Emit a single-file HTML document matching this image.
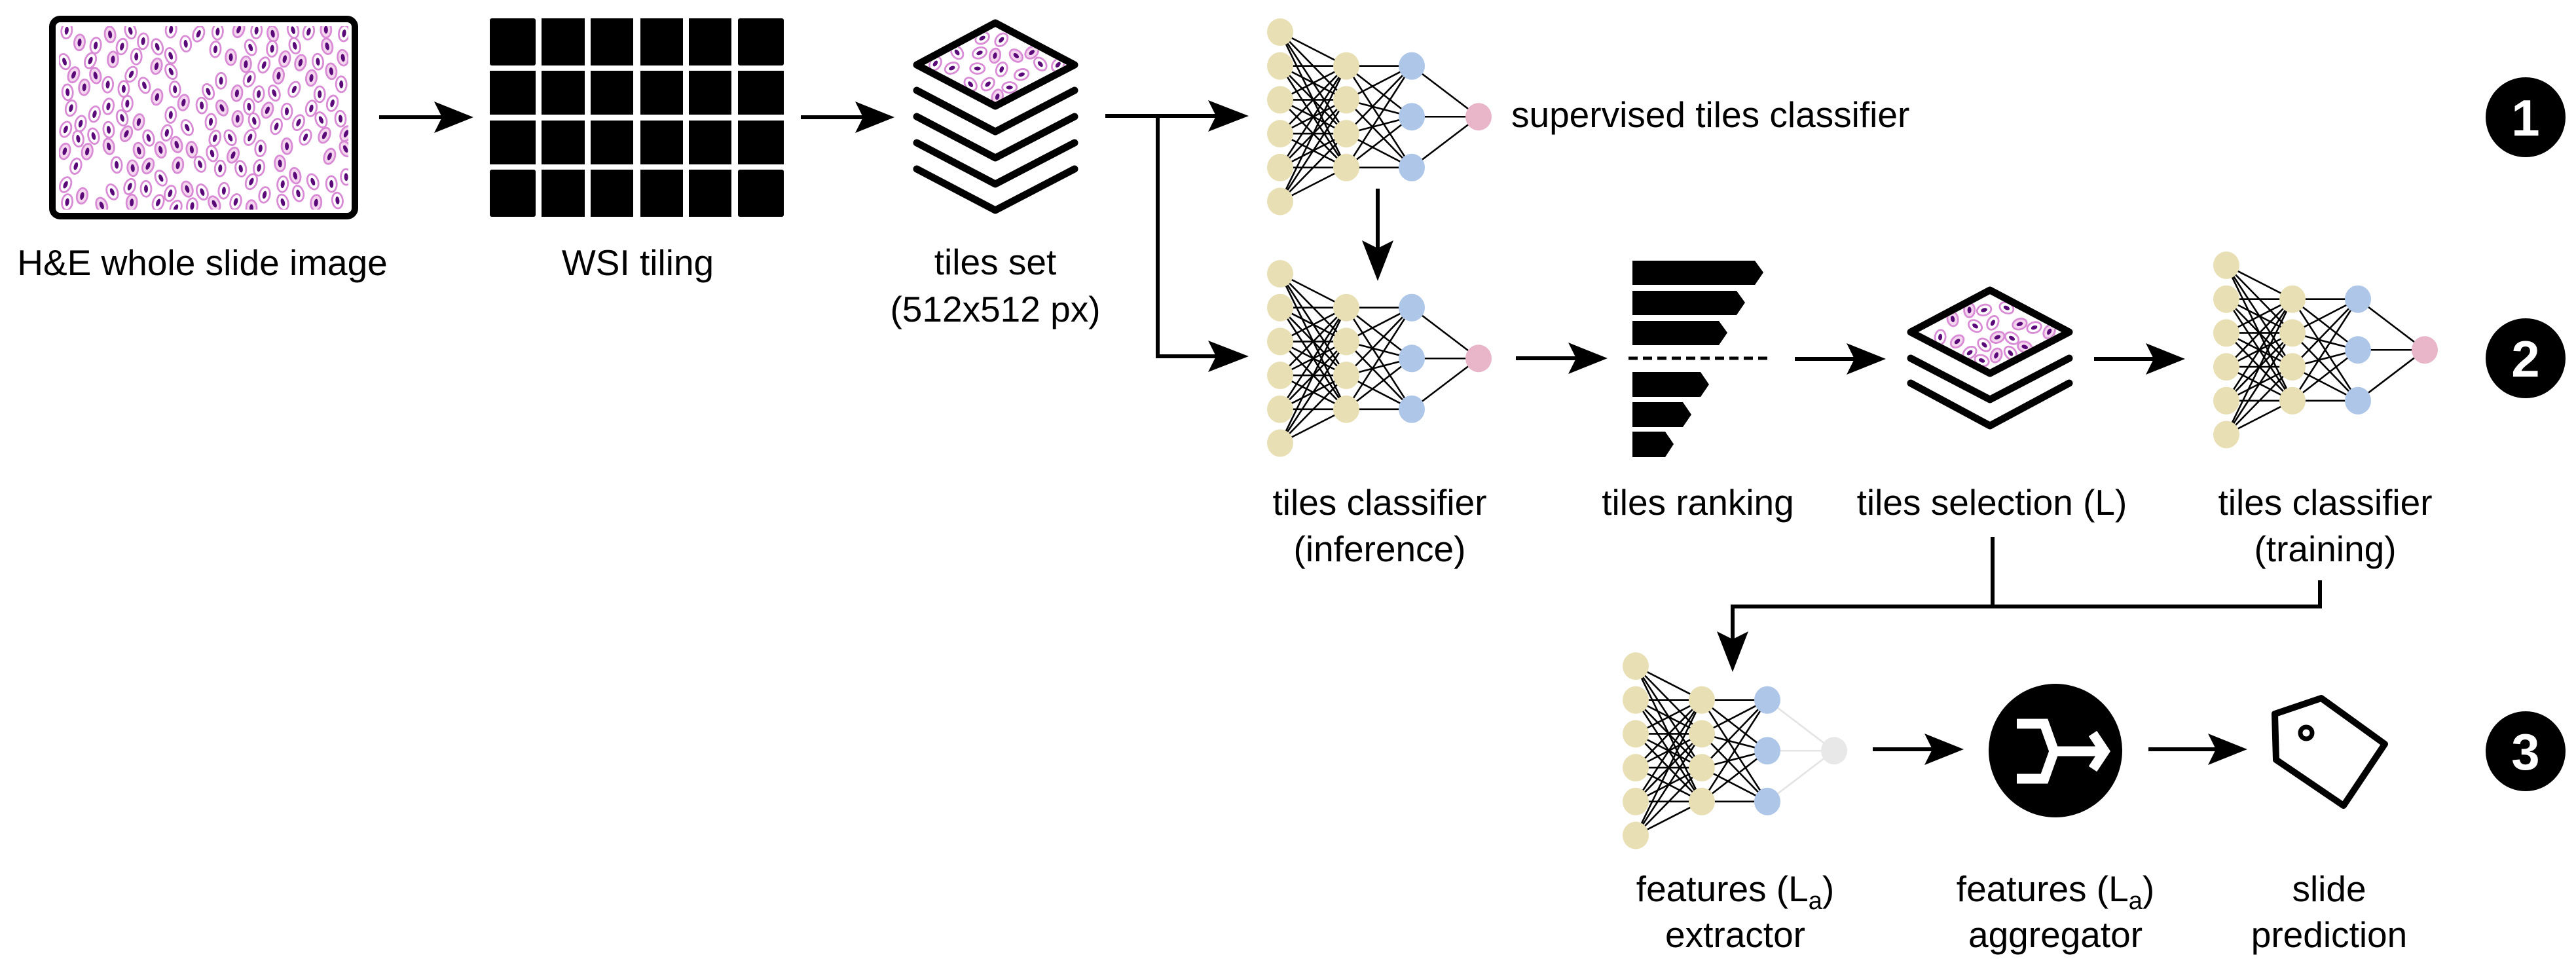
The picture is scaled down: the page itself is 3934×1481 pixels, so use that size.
<!DOCTYPE html>
<html><head><meta charset="utf-8"><style>
html,body{margin:0;padding:0;background:#fff;}
svg{display:block;}
text{font-family:"Liberation Sans",Arial,sans-serif;font-size:55px;fill:#000;}
.b{font-weight:bold;fill:#fff;font-size:78px;}
</style></head><body>
<svg id="s" width="3934" height="1481" viewBox="0 0 3934 1481" xmlns="http://www.w3.org/2000/svg">
<defs>
<clipPath id="c1"><polygon points="1412,99 1520,42 1628,99 1520,156"/></clipPath>
<clipPath id="c2"><polygon points="2931,507 3039,449 3147,507 3039,564"/></clipPath>
<clipPath id="c0"><rect x="90" y="40" width="442" height="280"/></clipPath>
</defs>
<g id="shapes"></g>
<rect x="80" y="29" width="462" height="301" rx="12" fill="none" stroke="#000" stroke-width="10"/>
<g fill="#000">
<rect x="748" y="28" width="70" height="72" rx="3"/><rect x="827" y="28" width="66" height="72"/><rect x="902" y="28" width="65" height="72"/><rect x="978" y="28" width="65" height="72"/><rect x="1052" y="28" width="65" height="72"/><rect x="1127" y="28" width="70" height="72" rx="3"/>
<rect x="748" y="108" width="70" height="67"/><rect x="827" y="108" width="66" height="67"/><rect x="902" y="108" width="65" height="67"/><rect x="978" y="108" width="65" height="67"/><rect x="1052" y="108" width="65" height="67"/><rect x="1127" y="108" width="70" height="67"/>
<rect x="748" y="184" width="70" height="67"/><rect x="827" y="184" width="66" height="67"/><rect x="902" y="184" width="65" height="67"/><rect x="978" y="184" width="65" height="67"/><rect x="1052" y="184" width="65" height="67"/><rect x="1127" y="184" width="70" height="67"/>
<rect x="748" y="259" width="70" height="72" rx="3"/><rect x="827" y="259" width="66" height="72"/><rect x="902" y="259" width="65" height="72"/><rect x="978" y="259" width="65" height="72"/><rect x="1052" y="259" width="65" height="72"/><rect x="1127" y="259" width="70" height="72" rx="3"/>
</g>
<g fill="none" stroke="#000" stroke-width="11" stroke-linejoin="round" stroke-linecap="round">
<polygon points="1400,99 1520,35 1641,99 1520,162"/>
<polyline points="1400,138 1520,201 1641,138"/>
<polyline points="1400,178 1520,241 1641,178"/>
<polyline points="1400,218 1520,281 1641,218"/>
<polyline points="1400,258 1520,321 1641,258"/>
<polygon points="2918,507 3039,443 3160,507 3039,570"/>
<polyline points="2918,547 3039,610 3160,547"/>
<polyline points="2918,585 3039,650 3160,585"/>
</g>
<g fill="#000">
<polygon points="2493,398 2680,398 2693,416 2680,435 2493,435"/>
<polygon points="2493,444 2652,444 2665,462 2652,481 2493,481"/>
<polygon points="2493,490 2625,490 2638,508 2625,527 2493,527"/>
<polygon points="2493,568 2597,568 2610,587 2597,606 2493,606"/>
<polygon points="2493,614 2570,614 2583,633 2570,652 2493,652"/>
<polygon points="2493,659 2543,659 2556,678 2543,698 2493,698"/>
</g>
<line x1="2487" y1="547" x2="2699" y2="547" stroke="#000" stroke-width="5" stroke-dasharray="14,8"/>
<g fill="none" stroke="#000" stroke-width="6">
<polyline points="1688,177 1860,177"/>
<polyline points="1768,177 1768,544 1860,544"/>
<line x1="579" y1="179" x2="680" y2="179"/>
<line x1="1223" y1="179" x2="1325" y2="179"/>
<line x1="2104" y1="288" x2="2104" y2="390"/>
<line x1="2315" y1="547" x2="2415" y2="547"/>
<line x1="2741" y1="548" x2="2840" y2="548"/>
<line x1="3198" y1="548" x2="3295" y2="548"/>
<polyline points="3043,820 3043,926"/>
<polyline points="3543,886 3543,926 2646,926 2646,985"/>
<line x1="2860" y1="1144" x2="2960" y2="1144"/>
<line x1="3281" y1="1144" x2="3392" y2="1144"/>
</g>
<g fill="#000">
<polygon points="1907,177 1845,153 1857,177 1845,201"/>
<polygon points="1907,544 1845,520 1857,544 1845,568"/>
<polygon points="723,179 663,155 675,179 663,203"/>
<polygon points="1366,179 1306,155 1318,179 1306,203"/>
<polygon points="2104,429 2080,367 2104,379 2128,367"/>
<polygon points="2455,547 2395,523 2407,547 2395,571"/>
<polygon points="2880,548 2820,524 2832,548 2820,572"/>
<polygon points="3337,548 3277,524 3289,548 3277,572"/>
<polygon points="2646,1026 2622,964 2646,976 2670,964"/>
<polygon points="2999,1144 2939,1120 2951,1144 2939,1168"/>
<polygon points="3432,1144 3372,1120 3384,1144 3372,1168"/>
</g>
<circle cx="3139" cy="1146" r="102" fill="#000"/>
<g fill="none" stroke="#fff" stroke-width="15" stroke-linejoin="miter">
<polyline points="3080,1105 3122,1105 3137,1147 3122,1189 3080,1189"/>
<line x1="3137" y1="1147" x2="3205" y2="1147"/>
<polyline points="3196,1120 3214,1147 3196,1174"/>
</g>
<polygon points="3474,1090 3545,1066 3642,1136 3579,1230 3476,1160" fill="#fff" stroke="#000" stroke-width="10" stroke-linejoin="round"/>
<circle cx="3522" cy="1119" r="9" fill="none" stroke="#000" stroke-width="7"/>
<circle cx="3857" cy="179" r="61" fill="#000"/><text class="b" x="3857" y="207" text-anchor="middle">1</text>
<circle cx="3857" cy="547" r="61" fill="#000"/><text class="b" x="3857" y="575" text-anchor="middle">2</text>
<circle cx="3857" cy="1147" r="61" fill="#000"/><text class="b" x="3857" y="1175" text-anchor="middle">3</text>
<g text-anchor="middle">
<text x="309" y="420">H&amp;E whole slide image</text>
<text x="974" y="420">WSI tiling</text>
<text x="1520" y="419">tiles set</text>
<text x="1520" y="491">(512x512 px)</text>
<text x="2107" y="786">tiles classifier</text>
<text x="2107" y="857">(inference)</text>
<text x="2593" y="786">tiles ranking</text>
<text x="3042" y="786">tiles selection (L)</text>
<text x="3551" y="786">tiles classifier</text>
<text x="3551" y="857">(training)</text>
<text x="2650" y="1376">features (L<tspan font-size="38" dy="12">a</tspan><tspan dy="-12">)</tspan></text>
<text x="2650" y="1446">extractor</text>
<text x="3139" y="1376">features (L<tspan font-size="38" dy="12">a</tspan><tspan dy="-12">)</tspan></text>
<text x="3139" y="1446">aggregator</text>
<text x="3557" y="1376">slide</text>
<text x="3557" y="1446">prediction</text>
</g>
<text x="2308" y="194">supervised tiles classifier</text>
</svg>
<script>
(function(){
var NS="http://www.w3.org/2000/svg";
var g=document.getElementById("shapes");
var seed=12345;
function rnd(){seed|=0;seed=seed+0x6D2B79F5|0;var t=Math.imul(seed^seed>>>15,1|seed);t=t+Math.imul(t^t>>>7,61|t)^t;return((t^t>>>14)>>>0)/4294967296;}
function el(n,a,p){var e=document.createElementNS(NS,n);for(var k in a)e.setAttribute(k,a[k]);(p||g).appendChild(e);return e;}
function cells(x0,y0,x1,y1,n,clip,inside,md,rot){
  var grp=el("g",{"clip-path":"url(#"+clip+")"});
  var pts=[],tries=0;
  while(pts.length<n&&tries<20000){tries++;
    var x=x0+rnd()*(x1-x0),y=y0+rnd()*(y1-y0);
    if(inside&&!inside(x,y))continue;
    var ok=true;for(var i=0;i<pts.length;i++){var dx=pts[i][0]-x,dy=pts[i][1]-y;if(dx*dx+dy*dy<md*md){ok=false;break;}}
    if(!ok)continue;pts.push([x,y]);
    var r=rot?rnd()*180:(rnd()*50-25);
    var c=el("g",{transform:"translate("+x.toFixed(1)+","+y.toFixed(1)+") rotate("+r.toFixed(0)+")"},grp);
    el("ellipse",{cx:0,cy:0,rx:rot?11:8,ry:rot?8:12,fill:rnd()<0.35?"#f4d6ef":"#fff",stroke:"#d98bd6","stroke-width":2.8},c);
    el("ellipse",{cx:0,cy:0,rx:rot?5:3,ry:rot?3:6,fill:"#5a0a78"},c);
  }
}
cells(98,45,530,318,150,"c0",function(x,y){
  /* leave a few gaps like the reference */
  var holes=[[300,105,38],[150,270,30],[470,240,26],[230,175,20]];
  for(var i=0;i<holes.length;i++){var h=holes[i];if((x-h[0])*(x-h[0])+(y-h[1])*(y-h[1])<h[2]*h[2])return false;}
  return true;},23,false);
cells(1412,42,1628,156,22,"c1",function(x,y){return Math.abs(x-1520)/108+Math.abs(y-99)/57<0.9;},22,true);
cells(2931,449,3147,564,22,"c2",function(x,y){return Math.abs(x-3039)/108+Math.abs(y-507)/57<0.9;},22,true);
function net(x0,y0,grey){
  var s=51.7;
  var L=[[0,1,2,3,4,5].map(function(i){return[x0,y0+i*s];}),
         [1,2,3,4].map(function(i){return[x0+101,y0+i*s];}),
         [1,2.5,4].map(function(i){return[x0+201,y0+i*s];}),
         [[x0+303,y0+2.5*s]]];
  for(var l=0;l<3;l++)for(var a=0;a<L[l].length;a++)for(var b=0;b<L[l+1].length;b++){
    el("line",{x1:L[l][a][0],y1:L[l][a][1],x2:L[l+1][b][0],y2:L[l+1][b][1],stroke:(grey&&l==2)?"#e4e4e4":"#000","stroke-width":2.6});
  }
  var cols=["#e9dfb4","#e9dfb4","#aec6e8",grey?"#e8e8e8":"#e8b5c9"];
  for(var l=0;l<4;l++)L[l].forEach(function(p){el("ellipse",{cx:p[0],cy:p[1],rx:20,ry:21,fill:cols[l]});});
}
net(1955,49,false);
net(1955,418,false);
net(3400,405,false);
net(2498,1017,true);
})();
</script>
</body></html>
